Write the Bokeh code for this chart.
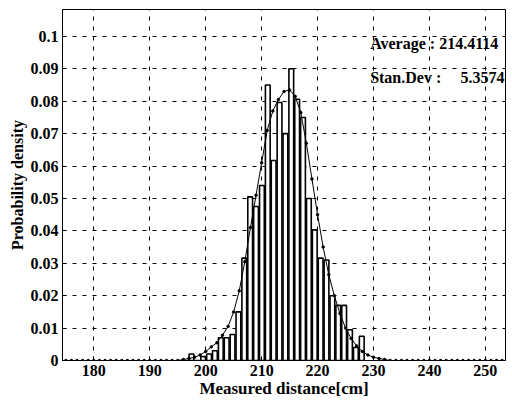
from bokeh.plotting import figure
from bokeh.models import ColumnDataSource, FixedTicker, Range1d, Label
from bokeh.embed import file_html
from bokeh.resources import INLINE

# Histogram bins (centres, cm) and probability density
bin_centers = [197.45, 198.5, 199.55, 200.6, 201.65, 202.7, 203.75, 204.8, 205.85, 206.9,
               207.95, 209.0, 210.05, 211.1, 212.15, 213.2, 214.25, 215.3, 216.35, 217.4,
               218.45, 219.5, 220.55, 221.6, 222.65, 223.7, 224.75, 225.8, 226.85, 227.9]
densities = [0.002, 0.0, 0.0012, 0.002, 0.003, 0.007, 0.007, 0.008, 0.015, 0.0316,
             0.0505, 0.0475, 0.054, 0.085, 0.0617, 0.0796, 0.070, 0.090, 0.0806, 0.075,
             0.050, 0.0403, 0.0316, 0.031, 0.020, 0.017, 0.017, 0.0095, 0.004, 0.0075]
bar_width = 0.85

# Fitted curve, read at each cm
curve_x = list(range(175, 254))
curve_y = ([0.0] * 21 +  # 175..195
           [0.0003, 0.0006, 0.001, 0.0017, 0.0028, 0.0042, 0.0055, 0.0078, 0.0105, 0.015,
            0.0215, 0.0305, 0.041, 0.051, 0.061, 0.071, 0.077, 0.0805, 0.083, 0.0835,
            0.0815, 0.0765, 0.067, 0.056, 0.045, 0.035, 0.0265, 0.020, 0.0145, 0.010,
            0.0068, 0.0045, 0.0028, 0.0017, 0.001, 0.0006, 0.0003] +  # 196..232
           [0.0] * 21)  # 233..253

x_ticks = [180, 190, 200, 210, 220, 230, 240, 250]
y_ticks = [0, 0.01, 0.02, 0.03, 0.04, 0.05, 0.06, 0.07, 0.08, 0.09, 0.1]
y_tick_labels = ["0", "0.01", "0.02", "0.03", "0.04", "0.05", "0.06", "0.07", "0.08", "0.09", "0.1"]

avg_label = "Average : 214.4114"
std_label = "Stan.Dev :"
std_value = "5.3574"
x_title = "Measured distance[cm]"
y_title = "Probability density"

FONT = "Liberation Serif"

p = figure(width=508, height=400, output_backend="svg", toolbar_location=None,
           x_range=Range1d(174.4, 253.6), y_range=Range1d(0, 0.1083),
           min_border_left=62, min_border_right=3, min_border_top=9, min_border_bottom=38)
p.background_fill_color = "white"
p.border_fill_color = "white"
p.outline_line_color = "black"
p.outline_line_width = 1

src = ColumnDataSource(dict(x=bin_centers, top=densities))
p.vbar(x="x", top="top", bottom=0, width=bar_width, source=src,
       fill_color="white", line_color="black", line_width=1.6)

csrc = ColumnDataSource(dict(x=curve_x, y=curve_y))
p.line("x", "y", source=csrc, line_color="black", line_width=1)
p.scatter("x", "y", source=csrc, size=2.5, color="black")

lab_kw = dict(text_font=FONT, text_font_style="bold", text_font_size="16px",
              text_baseline="middle", text_color="black")
p.add_layout(Label(x=229.4, y=0.0979, text=avg_label, text_align="left", **lab_kw))
p.add_layout(Label(x=229.4, y=0.0874, text=std_label, text_align="left", **lab_kw))
p.add_layout(Label(x=253.4, y=0.0874, text=std_value, text_align="right", **lab_kw))

for g in (p.xgrid, p.ygrid):
    g.grid_line_color = "black"
    g.grid_line_dash = "4 6"
    g.grid_line_width = 1
p.xgrid.ticker = FixedTicker(ticks=x_ticks)
p.ygrid.ticker = FixedTicker(ticks=y_ticks)

p.xaxis.ticker = FixedTicker(ticks=x_ticks)
p.yaxis.ticker = FixedTicker(ticks=y_ticks)
p.yaxis.major_label_overrides = {t: l for t, l in zip(y_ticks, y_tick_labels)}

for ax in (p.xaxis[0], p.yaxis[0]):
    ax.axis_line_color = "black"
    ax.major_tick_line_color = "black"
    ax.major_tick_in = 4
    ax.major_tick_out = 0
    ax.minor_tick_line_color = None
    ax.major_label_text_font = FONT
    ax.major_label_text_font_style = "bold"
    ax.major_label_text_font_size = "16px"
    ax.major_label_text_color = "black"
    ax.axis_label_text_font = FONT
    ax.axis_label_text_font_style = "bold"
    ax.axis_label_text_color = "black"

p.xaxis.axis_label = x_title
p.yaxis.axis_label = y_title
p.xaxis.axis_label_text_font_size = "17px"
p.yaxis.axis_label_text_font_size = "16px"
p.xaxis.major_label_standoff = 4
p.xaxis.axis_label_standoff = 0
p.yaxis.major_label_standoff = 4
p.yaxis.axis_label_standoff = 2

open("out.html", "w").write(file_html(p, INLINE))
